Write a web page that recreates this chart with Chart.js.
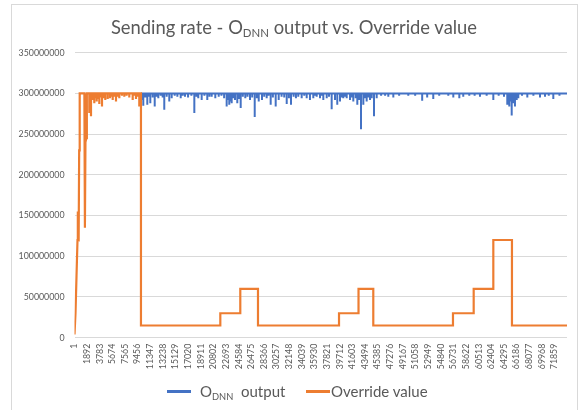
<!DOCTYPE html>
<html>
<head>
<meta charset="utf-8">
<script src="https://cdn.jsdelivr.net/npm/chart.js@4.4.1/dist/chart.umd.min.js"></script>
<style>
  html, body { margin: 0; padding: 0; background: #ffffff; }
  #wrap { position: relative; width: 581px; height: 410px; overflow: hidden; font-family: Lato, "Open Sans", sans-serif; color: #595959; }
  #frame { position: absolute; left: 11px; top: 4px; width: 567px; height: 410px; border: 1px solid #D9D9D9; box-sizing: border-box; }
  #c { position: absolute; left: 0; top: 0; }
  #title { position: absolute; left: 0; top: 16px; width: 588px; text-align: center; font-size: 18.4px; font-weight: 400; white-space: nowrap; }
  #title sub, .leg sub { font-size: 62%; vertical-align: baseline; position: relative; top: 0.3em; }
  .leg { position: absolute; top: 382px; font-size: 15px; white-space: nowrap; }
  .swatch { position: absolute; top: 390px; width: 24px; height: 2.5px; }
</style>
</head>
<body>
<div id="wrap">
  <div id="frame"></div>
  <canvas id="c" width="581" height="410"></canvas>
  <div id="title">Sending rate - O<sub>DNN</sub> output vs. Override value</div>
  <div class="swatch" style="left:167px;background:#4472C4"></div>
  <div class="leg" style="left:200px">O<sub>DNN</sub>&nbsp; output</div>
  <div class="swatch" style="left:306px;background:#ED7D31"></div>
  <div class="leg" style="left:331px">Override value</div>
</div>
<script>
// ---- data ----
const seriesNames = ["O_DNN output", "Override value"];
const baseRate = 300000000;
const lastSample = 73730;

// x-axis category labels (every 1891 samples)
const xTickLabels = [1, 1892, 3783, 5674, 7565, 9456, 11347, 13238, 15129, 17020, 18911, 20802, 22693, 24584, 26475, 28366, 30257, 32148, 34039, 35930, 37821, 39712, 41603, 43494, 45385, 47276, 49167, 51058, 52949, 54840, 56731, 58622, 60513, 62404, 64295, 66186, 68077, 69968, 71859];

// Override value: start-up ramp and early spikes
const overrideEarlyX = [1, 150, 300, 450, 500, 560, 620, 700, 780, 1480, 1560, 1640, 1760, 1850];
const overrideEarlyY = [4000000, 30000000, 75000000, 120000000, 155000000, 150000000, 118000000, 230000000, 300000000, 300000000, 135000000, 240000000, 245000000, 300000000];
// Override value: dips below 300M before the override kicks in
const overrideDipX = [2216, 2471, 2700, 2965, 3150, 3325, 3500, 3714, 3900, 4118, 4350, 4612, 4971, 5315, 5520, 5720, 6000, 6214, 6450, 6708, 7100, 7456, 7800, 8205, 8713, 9000, 9207, 9450, 9701];
const overrideDipY = [276000000, 272000000, 292000000, 288000000, 294000000, 290000000, 293000000, 287000000, 295000000, 284000000, 294000000, 292000000, 293000000, 294000000, 296000000, 292000000, 296000000, 290000000, 296000000, 294000000, 297000000, 296000000, 297000000, 295000000, 292000000, 297000000, 293000000, 296000000, 284000000];
// Override value: step levels (start sample of each level)
const overrideStepX = [9950, 21830, 24820, 27470, 39600, 42520, 44730, 56660, 59760, 62700, 65490];
const overrideStepY = [15000000, 30000000, 60000000, 15000000, 30000000, 60000000, 15000000, 30000000, 60000000, 120000000, 15000000];

// O_DNN output: dips below 300M
const dnnDipX = [10150, 10300, 10600, 10900, 11150, 11350, 11700, 12010, 12300, 12550, 12900, 13200, 13440, 13800, 14190, 14550, 15000, 15400, 15900, 16200, 16540, 17000, 17500, 17940, 18250, 18530, 19040, 19450, 19880, 20200, 20540, 21080, 21590, 22000, 22400, 22780, 23000, 23170, 23350, 23530, 23800, 24030, 24370, 24650, 24880, 25200, 25570, 25900, 26270, 26600, 26980, 27300, 27580, 28070, 28400, 28770, 29050, 29370, 29700, 30120, 30570, 31000, 31400, 31770, 32100, 32410, 32800, 33150, 33500, 34010, 34400, 34760, 35250, 35750, 36000, 36260, 36750, 37000, 37250, 37760, 38100, 38500, 39000, 39340, 39750, 40000, 40240, 40500, 40750, 41250, 41500, 41740, 42100, 42340, 42600, 42890, 43240, 43500, 43740, 44000, 44240, 44500, 44840, 45240, 45900, 46500, 46980, 47730, 48600, 49970, 51000, 52050, 52800, 53710, 54600, 55960, 56710, 57610, 58200, 59100, 59900, 60700, 61700, 62700, 63500, 64300, 64790, 65090, 65250, 65450, 65700, 65940, 66200, 66440, 67000, 67790, 68700, 69690, 70440, 71000, 71680, 72600];
const dnnDipY = [292000000, 285000000, 295000000, 286000000, 296000000, 288000000, 295000000, 284000000, 296000000, 294000000, 297000000, 295000000, 280000000, 296000000, 290000000, 294000000, 297000000, 296000000, 294000000, 297000000, 296000000, 295000000, 297000000, 276000000, 296000000, 294000000, 292000000, 297000000, 292000000, 296000000, 296000000, 294000000, 296000000, 297000000, 294000000, 284000000, 292000000, 286000000, 290000000, 288000000, 294000000, 292000000, 288000000, 293000000, 282000000, 296000000, 294000000, 296000000, 292000000, 295000000, 271000000, 294000000, 290000000, 292000000, 296000000, 294000000, 297000000, 286000000, 295000000, 284000000, 292000000, 296000000, 295000000, 287000000, 294000000, 286000000, 296000000, 294000000, 296000000, 294000000, 297000000, 294000000, 292000000, 294000000, 297000000, 296000000, 294000000, 297000000, 292000000, 294000000, 296000000, 280500000, 292000000, 286000000, 290000000, 295000000, 294000000, 296000000, 294000000, 292000000, 295000000, 290000000, 294000000, 286000000, 292000000, 256000000, 286000000, 294000000, 290000000, 295000000, 292000000, 294000000, 272000000, 294000000, 297000000, 297000000, 296000000, 295000000, 297000000, 297000000, 297000000, 291000000, 295000000, 293000000, 297000000, 297000000, 295000000, 294000000, 296000000, 297000000, 297000000, 296000000, 297000000, 292000000, 297000000, 296000000, 286000000, 284000000, 290000000, 273000000, 288000000, 284000000, 292000000, 294000000, 297000000, 295000000, 297000000, 295000000, 296000000, 297000000, 293000000, 297000000];

// y-axis
const yMin = 0, yMax = 350000000, yStep = 50000000;

// ---- build point lists from the arrays ----
function dipsOnBase(startX, endX, base, xs, ys) {
  const pts = [{ x: startX, y: base }];
  xs.forEach((x, i) => { pts.push({ x, y: base }, { x, y: ys[i] }, { x, y: base }); });
  pts.push({ x: endX, y: base });
  return pts;
}
const overridePts = overrideEarlyX.map((x, i) => ({ x, y: overrideEarlyY[i] }))
  .concat(dipsOnBase(overrideEarlyX[overrideEarlyX.length - 1], overrideStepX[0], baseRate, overrideDipX, overrideDipY));
overrideStepX.forEach((x, i) => {
  const end = i + 1 < overrideStepX.length ? overrideStepX[i + 1] : lastSample;
  overridePts.push({ x, y: overrideStepY[i] }, { x: end, y: overrideStepY[i] });
});
const dnnPts = dipsOnBase(overrideStepX[0], lastSample, baseRate, dnnDipX, dnnDipY);

const tickFont = { family: 'Lato, "Open Sans", sans-serif', size: 8.8 };
new Chart(document.getElementById('c'), {
  type: 'line',
  data: {
    datasets: [
      { label: seriesNames[0], data: dnnPts, borderColor: '#4472C4', backgroundColor: '#4472C4', borderWidth: 2, pointRadius: 0, tension: 0, order: 1 },
      { label: seriesNames[1], data: overridePts, borderColor: '#ED7D31', backgroundColor: '#ED7D31', borderWidth: 2.2, pointRadius: 0, tension: 0, order: 0 }
    ]
  },
  options: {
    responsive: false,
    animation: false,
    devicePixelRatio: 1,
    layout: { padding: { left: 0, right: 14, top: 52.7, bottom: 0 } },
    plugins: { legend: { display: false }, title: { display: false }, tooltip: { enabled: false } },
    scales: {
      x: {
        type: 'linear', min: 1, max: lastSample,
        grid: { display: false, drawTicks: false },
        border: { display: false },
        afterBuildTicks: (axis) => { axis.ticks = xTickLabels.map(v => ({ value: v })); },
        afterFit: (axis) => { axis.height = 72.3; },
        ticks: { autoSkip: false, maxRotation: 90, minRotation: 90, padding: 6, color: '#595959', font: tickFont, callback: (v) => String(v) }
      },
      y: {
        min: yMin, max: yMax,
        grid: { color: '#D9D9D9', lineWidth: 1, drawTicks: false },
        border: { display: false },
        afterFit: (axis) => { axis.width = 74.5; },
        ticks: { stepSize: yStep, padding: 10, color: '#595959', font: tickFont, callback: (v) => String(v) }
      }
    }
  }
});
</script>
</body>
</html>
